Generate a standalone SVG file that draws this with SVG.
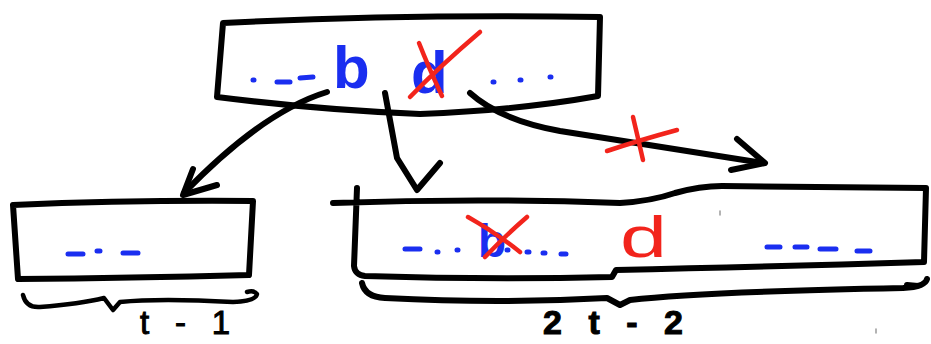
<svg xmlns="http://www.w3.org/2000/svg" width="931" height="344" viewBox="0 0 931 344">
  <style>
    .ink { fill: none; stroke: #000; stroke-width: 6; stroke-linecap: round; stroke-linejoin: round; }
    .ink-thin { fill: none; stroke: #000; stroke-width: 4.5; stroke-linecap: round; stroke-linejoin: round; }
    .key-dash { fill: none; stroke: #1a2ef0; stroke-width: 5; stroke-linecap: round; }
    .strike { fill: none; stroke: #f2241c; stroke-width: 4.5; stroke-linecap: round; stroke-linejoin: round; }
    .key { font-family: "Liberation Sans", "DejaVu Sans", sans-serif; font-weight: bold; fill: #1a2ef0; }
    .key-red { font-family: "Liberation Sans", "DejaVu Sans", sans-serif; fill: #f2241c; }
    .size { font-family: "Liberation Sans", "DejaVu Sans", sans-serif; fill: #000; stroke: #000; stroke-width: 1; }
    .speck { fill: none; stroke: #9a9a9a; stroke-width: 1.5; stroke-linecap: round; }
  </style>

  <rect width="931" height="344" fill="#fff"/>

  <!-- parent node: ... b d ... -->
  <g id="node-parent">
    <path class="ink" d="M223,23 Q400,14 600,17 L598,96 Q520,110 420,114 Q320,110 217,97 Z" stroke-width="7"/>
    <path class="key-dash" d="M253,80 L254,80 M277,82 L290,82 M300,78 L313,77"/>
    <text class="key" x="333" y="88" font-size="60">b</text>
    <text class="key" x="411" y="93" font-size="60">d</text>
    <path class="key-dash" d="M493,82 L494,82 M520,80 L521,80 M550,77 L551,77"/>
    <path class="strike" d="M410,97 Q440,66 480,32 M419,43 Q428,66 442,96"/>
  </g>

  <!-- left child: t-1 keys -->
  <g id="node-left">
    <path class="ink" d="M13,205 Q130,200 253,201 L249,275 Q130,278 18,279 Z"/>
    <path class="key-dash" d="M68,254 L83,254 M97,251 L100,251 M123,253 L138,253"/>
  </g>

  <!-- right child: merged node with 2t-2 keys -->
  <g id="node-right">
    <path class="ink" d="M333,203 Q480,198 620,203 Q652,201 675,193 Q700,186 722,186 L926,188 L924,262 Q760,267 616,270 L612,277 Q490,280 365,276 Q355,275 354,266 L357,188"/>
    <path class="key-dash" d="M405,249 L420,249 M437,252 L438,252 M457,250 L458,250 M507,250 L508,250 M527,252 L529,252 M543,253 L545,253 M561,254 L566,254"/>
    <path class="key-dash" d="M767,247 L780,247 M795,247 L807,247 M820,249 L836,249 M857,251 L870,251"/>
    <text class="key" x="478" y="257" font-size="46" font-weight="normal">b</text>
    <path class="strike" d="M468,217 Q495,232 520,252 M527,217 Q505,236 485,257"/>
    <text class="key-red" x="620" y="257" font-size="58" textLength="47" lengthAdjust="spacingAndGlyphs">d</text>
  </g>

  <!-- child pointers from the parent keys -->
  <g id="connectors">
    <path class="ink" d="M327,92 Q262,112 184,193"/>
    <path class="ink" d="M193,169 L183,195 L217,185"/>
    <path class="ink" d="M385,93 L397,158 L417,190 L440,163" stroke-width="7"/>
    <path class="ink" d="M470,93 Q500,120 560,131 Q660,147 763,163"/>
    <path class="ink" d="M737,139 L765,163 L731,170" stroke-width="7"/>
    <path class="strike" d="M607,151 Q640,140 677,130 M633,117 Q638,138 643,160"/>
  </g>

  <!-- size braces -->
  <g id="brace-left">
    <path class="ink-thin" d="M23,295 Q26,308 40,307 Q80,304 104,298 L113,310 L120,302 Q160,298 233,302 Q256,301 257,294 Q254,290 247,292"/>
    <text class="size" x="140" y="334" font-size="33" textLength="90" lengthAdjust="spacing">t-1</text>
  </g>
  <g id="brace-right">
    <path class="ink" d="M362,283 Q365,297 385,298 Q500,304 607,298 L620,305 L630,300 Q700,292 903,288 Q925,287 927,279 M907,285 L918,286"/>
    <text class="size" x="543" y="334" font-size="34" font-weight="bold" textLength="140" lengthAdjust="spacing">2t-2</text>
  </g>

  <path class="speck" d="M720,211 L720,215 M876,329 L876,333"/>
</svg>
